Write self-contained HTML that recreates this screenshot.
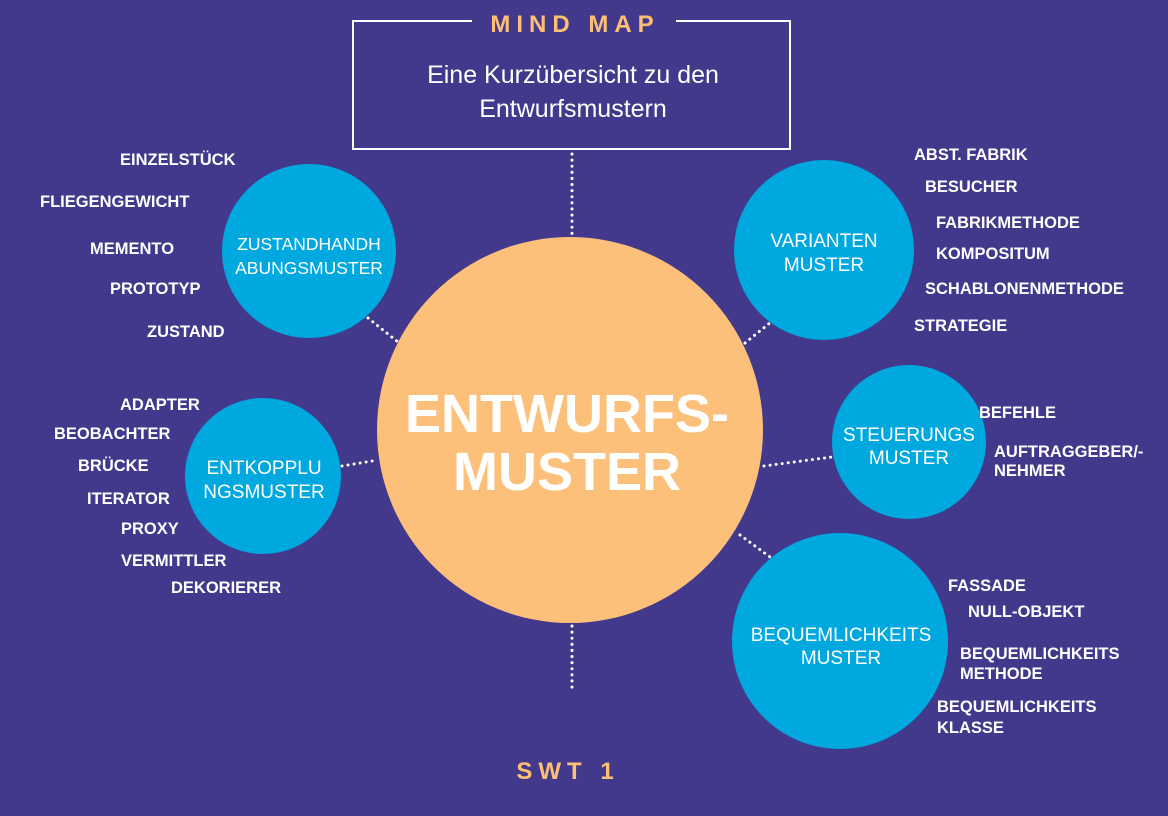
<!DOCTYPE html>
<html><head><meta charset="utf-8"><style>
body{margin:0;background:#42398c;}
svg{display:block}
text{font-family:"Liberation Sans",sans-serif;fill:#fff}
.l{font-size:16.5px;font-weight:bold}
.c{font-size:19px;text-anchor:middle}
.d{stroke:#fff;stroke-width:3;stroke-dasharray:0.1 6;stroke-linecap:round;fill:none}
</style></head><body>
<svg width="1168" height="816" viewBox="0 0 1168 816">
<rect width="1168" height="816" fill="#42398c"/>
<path d="M472 21 H353 V149 H790 V21 H676" fill="none" stroke="#fff" stroke-width="2"/>
<text x="575" y="32" text-anchor="middle" style="font-size:24px;font-weight:bold;letter-spacing:6px;fill:#fdbf75">MIND MAP</text>
<text x="573" y="83" text-anchor="middle" style="font-size:25px">Eine Kurzübersicht zu den</text>
<text x="573" y="117" text-anchor="middle" style="font-size:25px">Entwurfsmustern</text>
<path class="d" d="M572 154 V236 M572 626 V690 M368 318 L398 342 M342 466 L378 460 M745 343 L771 322 M764 466 L832 457 M740 535 L770 557"/>
<circle cx="570" cy="430" r="193" fill="#fdc07a"/>
<text x="567" y="432" text-anchor="middle" style="font-size:54px;font-weight:bold">ENTWURFS-</text>
<text x="567" y="490" text-anchor="middle" style="font-size:54px;font-weight:bold">MUSTER</text>
<g fill="#00a8e0">
<circle cx="309" cy="251" r="87"/><circle cx="824" cy="250" r="90"/>
<circle cx="263" cy="476" r="78"/><circle cx="909" cy="442" r="77"/>
<circle cx="840" cy="641" r="108"/></g>
<text class="c" x="309" y="250" style="font-size:17.5px">ZUSTANDHANDH</text><text class="c" x="309" y="274" style="font-size:17.5px">ABUNGSMUSTER</text>
<text class="c" x="824" y="247">VARIANTEN</text><text class="c" x="824" y="271">MUSTER</text>
<text class="c" x="264" y="474">ENTKOPPLU</text><text class="c" x="264" y="498">NGSMUSTER</text>
<text class="c" x="909" y="441">STEUERUNGS</text><text class="c" x="909" y="464">MUSTER</text>
<text class="c" x="841" y="641">BEQUEMLICHKEITS</text><text class="c" x="841" y="664">MUSTER</text>
<g>
<text class="l" x="120" y="165">EINZELSTÜCK</text>
<text class="l" x="40" y="207">FLIEGENGEWICHT</text>
<text class="l" x="90" y="254">MEMENTO</text>
<text class="l" x="110" y="294">PROTOTYP</text>
<text class="l" x="147" y="337">ZUSTAND</text>
<text class="l" x="120" y="410">ADAPTER</text>
<text class="l" x="54" y="439">BEOBACHTER</text>
<text class="l" x="78" y="471">BRÜCKE</text>
<text class="l" x="87" y="504">ITERATOR</text>
<text class="l" x="121" y="534">PROXY</text>
<text class="l" x="121" y="566">VERMITTLER</text>
<text class="l" x="171" y="593">DEKORIERER</text>
<text class="l" x="914" y="160">ABST. FABRIK</text>
<text class="l" x="925" y="192">BESUCHER</text>
<text class="l" x="936" y="228">FABRIKMETHODE</text>
<text class="l" x="936" y="259">KOMPOSITUM</text>
<text class="l" x="925" y="294">SCHABLONENMETHODE</text>
<text class="l" x="914" y="331">STRATEGIE</text>
<text class="l" x="979" y="418">BEFEHLE</text>
<text class="l" x="994" y="457">AUFTRAGGEBER/-</text>
<text class="l" x="994" y="476">NEHMER</text>
<text class="l" x="948" y="591">FASSADE</text>
<text class="l" x="968" y="617">NULL-OBJEKT</text>
<text class="l" x="960" y="659">BEQUEMLICHKEITS</text>
<text class="l" x="960" y="679">METHODE</text>
<text class="l" x="937" y="712">BEQUEMLICHKEITS</text>
<text class="l" x="937" y="733">KLASSE</text>
</g>
<text x="568" y="779" text-anchor="middle" style="font-size:24px;font-weight:bold;letter-spacing:6px;fill:#fdbf75">SWT 1</text>
</svg>
</body></html>
